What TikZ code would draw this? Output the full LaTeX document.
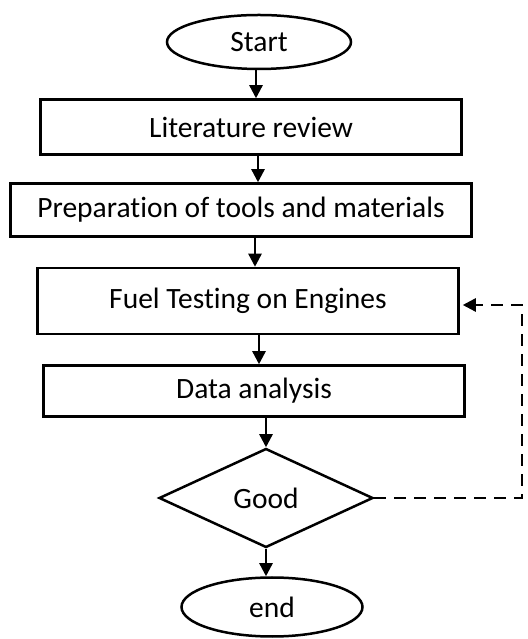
\documentclass[tikz,border=0pt]{standalone}
\usepackage{fontspec}
\setmainfont{Carlito}[Ligatures=NoCommon]
\usetikzlibrary{shapes.geometric,arrows.meta}
\begin{document}
\begin{tikzpicture}[x=1pt,y=1pt,
  every node/.style={font=\fontsize{29.5}{34}\selectfont,line width=2.5pt,inner sep=0pt},
  terminal/.style={draw,ellipse,minimum width=184,minimum height=54},
  process/.style={draw,rectangle,minimum width=421},
  decision/.style={draw,diamond,minimum width=214,minimum height=99},
  flow/.style={-{Triangle[length=13pt,width=13pt]},line width=2.4pt}]
\useasboundingbox (0,0) rectangle (527,639);
\node[terminal] (start) at (259,597) {Start};
\node[process,minimum height=55] (lit) at (251,512) {Literature review};
\node[process,minimum width=461,minimum height=53] (prep) at (241,429) {Preparation of tools and materials};
\node[process,minimum height=66] (fuel) at (248,338) {Fuel Testing on Engines};
\node[process,minimum height=51] (data) at (254,248) {Data analysis};
\node[decision] (good) at (266,141) {Good};
\node[terminal,minimum width=181,minimum height=59] (end) at (272,32) {end};
%% main flow
\draw[flow] ([xshift=-3pt]start.south) -- ([xshift=-3pt]start.south |- lit.north);
\draw[flow] ([xshift=7pt]lit.south) -- ([xshift=7pt]lit.south |- prep.north);
\draw[flow] ([xshift=14pt]prep.south) -- ([xshift=14pt]prep.south |- fuel.north);
\draw[flow] ([xshift=11pt]fuel.south) -- ([xshift=11pt]fuel.south |- data.north);
\draw[flow] (data.south -| good.north) -- (good.north);
\draw[flow] (good.south) -- (good.south |- end.north);
%% back to testing
\coordinate (back) at (522,141);
\draw[flow,dash pattern=on 12pt off 8pt,shorten >=3pt] (good.east) -- (back) |- ([yshift=-4pt]fuel.east);
\end{tikzpicture}
\end{document}
